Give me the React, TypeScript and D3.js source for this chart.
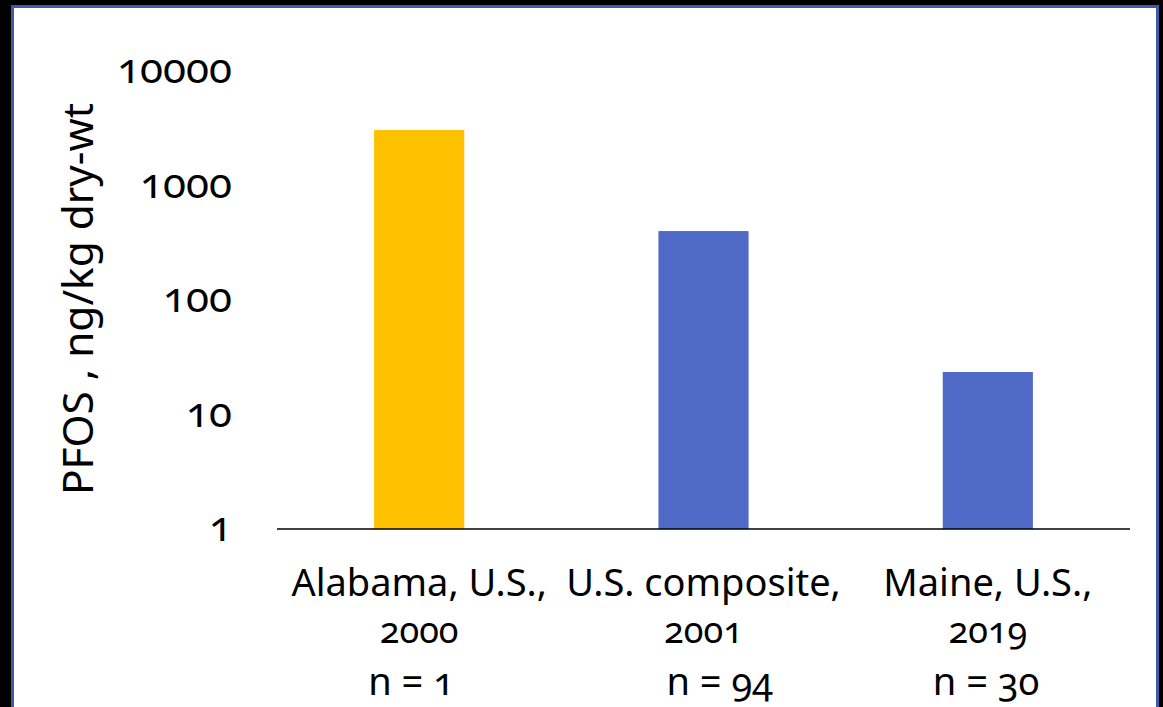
import React from "react";
import * as d3 from "d3";

// PFOS concentrations (ng/kg dry weight) by study
const categories = ["Alabama, U.S.,", "U.S. composite,", "Maine, U.S.,"];
const years = ["2000", "2001", "2019"];
const sampleCounts = ["n = 1", "n = 94", "n = 30"];
const pfosValues = [3050, 400, 23.5];
const barColors = ["#FFC000", "#4F69C6", "#4F69C6"];
const yTicks = [1, 10, 100, 1000, 10000];

const W = 1163;
const H = 707;
const plot = { left: 277, right: 1130, top: 71, bottom: 529 };
// horizontal nudge of the "n = …" labels relative to each category centre
const nLabelShift = [-51, -37, -55];

const FONT = "'Noto Sans', 'Open Sans', sans-serif";

export default function App() {
  const x = d3
    .scaleBand<string>()
    .domain(categories)
    .range([plot.left, plot.right])
    .paddingInner(0.683)
    .paddingOuter(0.3415);

  const y = d3.scaleLog().domain([1, 10000]).range([plot.bottom, plot.top]);

  return (
    <div style={{ position: "fixed", left: 0, top: 0, width: W, height: H }}>
      <svg width={W} height={H} style={{ display: "block" }}>
        <rect x={0} y={0} width={W} height={H} fill="#000" />
        <rect
          x={12.5}
          y={6.5}
          width={1145}
          height={740}
          fill="#fff"
          stroke="#3E5AAA"
          strokeWidth={3}
        />

        {/* bars */}
        {categories.map((c, i) => (
          <rect
            key={c}
            x={x(c)}
            y={y(pfosValues[i])}
            width={x.bandwidth()}
            height={y(1) - y(pfosValues[i])}
            fill={barColors[i]}
          />
        ))}

        {/* category axis line */}
        <line
          x1={plot.left}
          x2={plot.right}
          y1={y(1)}
          y2={y(1)}
          stroke="#000"
          strokeWidth={1.5}
        />

        {/* y tick labels */}
        {yTicks.map((t) => (
          <text
            key={t}
            x={232}
            y={y(t) + 12}
            textAnchor="end"
            fontFamily={FONT}
            fontSize={42}
            fill="#000"
            style={{ fontVariantNumeric: "oldstyle-nums" }}
          >
            {t}
          </text>
        ))}

        {/* y axis title */}
        <text
          transform={`translate(93, 299) rotate(-90)`}
          textAnchor="middle"
          fontFamily={FONT}
          fontSize={42}
          textLength={392}
          lengthAdjust="spacingAndGlyphs"
          fill="#000"
        >
          PFOS , ng/kg dry-wt
        </text>

        {/* category labels */}
        {categories.map((c, i) => {
          const cx = (x(c) ?? 0) + x.bandwidth() / 2;
          return (
            <g key={c} fontFamily={FONT} fill="#000" style={{ fontVariantNumeric: "oldstyle-nums" }}>
              <text x={cx} y={596} textAnchor="middle" fontSize={38}>
                {c}
              </text>
              <text x={cx} y={643} textAnchor="middle" fontSize={36}>
                {years[i]}
              </text>
              <text x={cx + nLabelShift[i]} y={695} textAnchor="start" fontSize={38}>
                {sampleCounts[i]}
              </text>
            </g>
          );
        })}
      </svg>
    </div>
  );
}
